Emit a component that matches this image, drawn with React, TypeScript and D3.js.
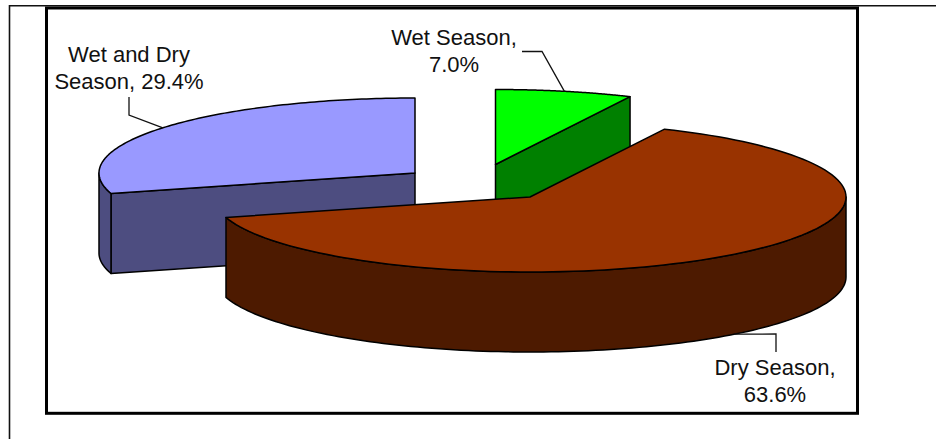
import React from "react";
import * as d3 from "d3";

// Share of respondents by season
const categories = ["Wet Season", "Dry Season", "Wet and Dry Season"];
const shares = [7.0, 63.6, 29.4];
const labelBreaks = [2, 2, 3];

const WIDTH = 936;
const HEIGHT = 439;
const RX = 316;
const RY = 75;
const DEPTH = 80;
const TAU = Math.PI * 2;

// Exploded slice apexes, one per category
const layout = [
  { cx: 495.5, cy: 164.5, top: "#00ff00", side: "#008000" },
  { cx: 530, cy: 197, top: "#993300", side: "#4d1a00" },
  { cx: 415, cy: 173, top: "#9999ff", side: "#4d4d80" },
];

const labelLayout = [
  { x: 454, y: 45, leader: [[522, 51.5], [542, 51.5]], drop: 0 },
  { x: 775, y: 375, leader: [[776, 352], [776, 334]], drop: DEPTH },
  { x: 129, y: 62, leader: [[129, 97], [129, 115]], drop: 0 },
];

const pie = d3.pie<number>().sort(null).value((d) => d);
const arcs = pie(shares);
const line = d3.line<[number, number]>();

type Slice = { cx: number; cy: number };

const rim = (s: Slice, angle: number, drop = 0): [number, number] => [
  s.cx + RX * Math.sin(angle),
  s.cy - RY * Math.cos(angle) + drop,
];

const rimRun = (s: Slice, a0: number, a1: number, drop = 0) =>
  d3.range(0, 121).map((i) => rim(s, a0 + ((a1 - a0) * i) / 120, drop));

// The flat top of a slice: apex, then around the rim
const topPath = (s: Slice, a0: number, a1: number) =>
  line([[s.cx, s.cy], ...rimRun(s, a0, a1)]) + "Z";

// Outer wall between two angles, pushed down by the pie's thickness
const wallPath = (s: Slice, a0: number, a1: number) =>
  line([...rimRun(s, a0, a1), ...rimRun(s, a1, a0, DEPTH)]) + "Z";

// Flat cut face running from the rim point to the apex
const cutPath = (s: Slice, angle: number) => {
  const p = rim(s, angle);
  return (
    line([p, [s.cx, s.cy], [s.cx, s.cy + DEPTH], [p[0], p[1] + DEPTH]]) + "Z"
  );
};

const wrap = (name: string, value: number, brk: number) => {
  const words = `${name}, ${value.toFixed(1)}%`.split(" ");
  return [words.slice(0, brk).join(" "), words.slice(brk).join(" ")];
};

export default function App() {
  const [wet, dry, both] = arcs;
  const stroke = { stroke: "#000", strokeWidth: 1.5, strokeLinejoin: "round" as const };
  return (
    <svg
      width={WIDTH}
      height={HEIGHT}
      style={{ position: "absolute", left: 0, top: 0, background: "#fff" }}
      fontFamily="'Liberation Sans', Arial, sans-serif"
    >
      {/* page frame */}
      <path d={`M9.5 ${HEIGHT}V5.8H${WIDTH}`} fill="none" stroke="#111" strokeWidth={1.6} />
      <rect x={46.5} y={8} width={811} height={405.3} fill="#fff" stroke="#000" strokeWidth={3} />

      {/* wet and dry slice */}
      <path d={cutPath(layout[2], both.startAngle)} fill={layout[2].side} {...stroke} />
      <path d={wallPath(layout[2], both.startAngle, (3 * TAU) / 4)} fill={layout[2].side} {...stroke} />
      <path d={topPath(layout[2], both.startAngle, both.endAngle)} fill={layout[2].top} {...stroke} />

      {/* wet slice */}
      <path d={cutPath(layout[0], wet.endAngle)} fill={layout[0].side} {...stroke} />
      <path d={topPath(layout[0], wet.startAngle, wet.endAngle)} fill={layout[0].top} {...stroke} />

      {/* dry slice */}
      <path d={wallPath(layout[1], TAU / 4, dry.endAngle)} fill={layout[1].side} {...stroke} />
      <path d={topPath(layout[1], dry.startAngle, dry.endAngle)} fill={layout[1].top} {...stroke} />

      {/* leaders run to the middle of each slice's rim */}
      {categories.map((name, i) => {
        const a = arcs[i];
        const l = labelLayout[i];
        const target = rim(layout[i], (a.startAngle + a.endAngle) / 2, l.drop);
        const pts = [...l.leader, target] as [number, number][];
        const [l1, l2] = wrap(name, shares[i], labelBreaks[i]);
        return (
          <g key={name}>
            <path d={line(pts) ?? ""} fill="none" stroke="#111" strokeWidth={1.3} />
            <text x={l.x} y={l.y} textAnchor="middle" fontSize={22} fill="#111">
              <tspan x={l.x}>{l1}</tspan>
              <tspan x={l.x} dy={27}>{l2}</tspan>
            </text>
          </g>
        );
      })}
    </svg>
  );
}
